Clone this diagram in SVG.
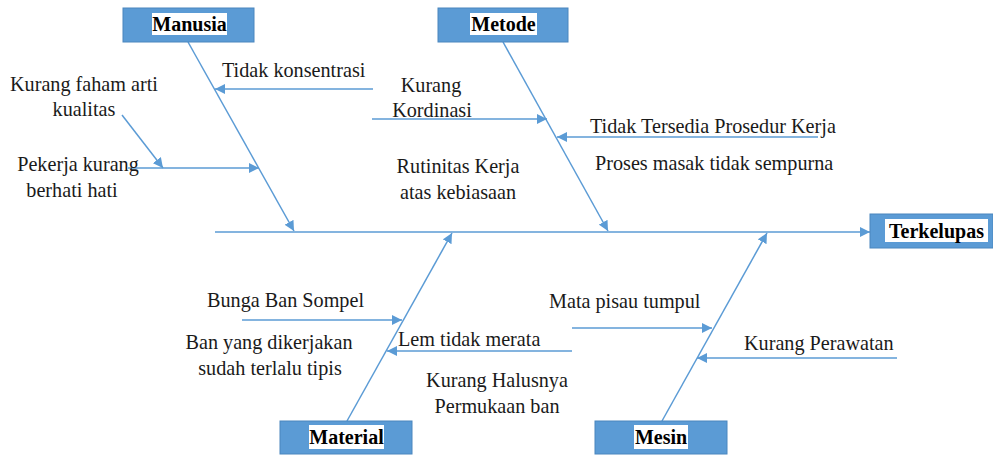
<svg xmlns="http://www.w3.org/2000/svg" width="993" height="455" viewBox="0 0 993 455">
<style>
.box{fill:#5B9BD5;stroke:#4A86BE;stroke-width:1}
.lbg{fill:#fff}
.lbl{font-family:"Liberation Serif","Times New Roman",serif;font-weight:bold;font-size:20px;fill:#000;text-anchor:middle}
.t{font-family:"Liberation Serif","Times New Roman",serif;font-size:20.2px;fill:#1a1a1a}
.c{text-anchor:middle}
.ln{stroke:#5B9BD5;stroke-width:1.5;fill:none}
.ar{marker-end:url(#ah)}
</style>
<defs>
<marker id="ah" viewBox="0 0 10 10" refX="10" refY="5" markerWidth="10" markerHeight="10" markerUnits="userSpaceOnUse" orient="auto">
<path d="M0,0 L10,5 L0,10 Z" fill="#5B9BD5"/>
</marker>
</defs>
<rect width="993" height="455" fill="#fff"/>
<g id="connectors">
<line class="ln ar" x1="215" y1="232" x2="870" y2="232"/>
<line class="ln ar" x1="188" y1="42" x2="294" y2="231"/>
<line class="ln ar" x1="503" y1="42" x2="608" y2="231"/>
<line class="ln ar" x1="347" y1="421" x2="452" y2="233"/>
<line class="ln ar" x1="662" y1="421" x2="767" y2="233"/>
<line class="ln ar" x1="373" y1="89" x2="215" y2="89"/>
<line class="ln ar" x1="122" y1="115" x2="163" y2="168"/>
<line class="ln ar" x1="128" y1="168" x2="259" y2="168"/>
<line class="ln ar" x1="372" y1="119" x2="547" y2="119"/>
<line class="ln ar" x1="818" y1="137" x2="557" y2="137"/>
<line class="ln ar" x1="242" y1="320" x2="402" y2="320"/>
<line class="ln ar" x1="572" y1="351" x2="387" y2="351"/>
<line class="ln ar" x1="572" y1="328" x2="712" y2="328"/>
<line class="ln ar" x1="897" y1="358" x2="697" y2="358"/>
</g>
<g id="manusia">
<rect class="box" x="123" y="8" width="131" height="34"/>
<rect class="lbg" x="152" y="13" width="75" height="22"/>
<text class="lbl" x="189.5" y="31">Manusia</text>
</g>
<g id="metode">
<rect class="box" x="438" y="8" width="130" height="34"/>
<rect class="lbg" x="470" y="13" width="67" height="22"/>
<text class="lbl" x="503.5" y="31">Metode</text>
</g>
<g id="terkelupas">
<rect class="box" x="870" y="214" width="123" height="34"/>
<rect class="lbg" x="885" y="219" width="103" height="23"/>
<text class="lbl" x="936.5" y="238">Terkelupas</text>
</g>
<g id="material">
<rect class="box" x="280" y="421" width="132" height="33"/>
<rect class="lbg" x="309" y="425" width="75" height="24"/>
<text class="lbl" x="346.5" y="444">Material</text>
</g>
<g id="mesin">
<rect class="box" x="595" y="421" width="132" height="33"/>
<rect class="lbg" x="634" y="425" width="54" height="24"/>
<text class="lbl" x="661" y="444">Mesin</text>
</g>
<g id="causes">
<text class="t" x="222" y="77">Tidak konsentrasi</text>
<text class="t c" x="84" y="91">Kurang faham arti</text>
<text class="t c" x="84" y="116">kualitas</text>
<text class="t c" x="78" y="171">Pekerja kurang</text>
<text class="t c" x="72" y="197">berhati hati</text>
<text class="t c" x="431" y="92">Kurang</text>
<text class="t c" x="432" y="117">Kordinasi</text>
<text class="t" x="590" y="133">Tidak Tersedia Prosedur Kerja</text>
<text class="t" x="595" y="170">Proses masak tidak sempurna</text>
<text class="t c" x="458" y="173">Rutinitas Kerja</text>
<text class="t c" x="458" y="199">atas kebiasaan</text>
<text class="t" x="207" y="307">Bunga Ban Sompel</text>
<text class="t c" x="269" y="349">Ban yang dikerjakan</text>
<text class="t c" x="270" y="375">sudah terlalu tipis</text>
<text class="t" x="398" y="346">Lem tidak merata</text>
<text class="t c" x="497" y="387">Kurang Halusnya</text>
<text class="t c" x="497" y="413">Permukaan ban</text>
<text class="t" x="549" y="308">Mata pisau tumpul</text>
<text class="t" x="744" y="350">Kurang Perawatan</text>
</g>
</svg>
